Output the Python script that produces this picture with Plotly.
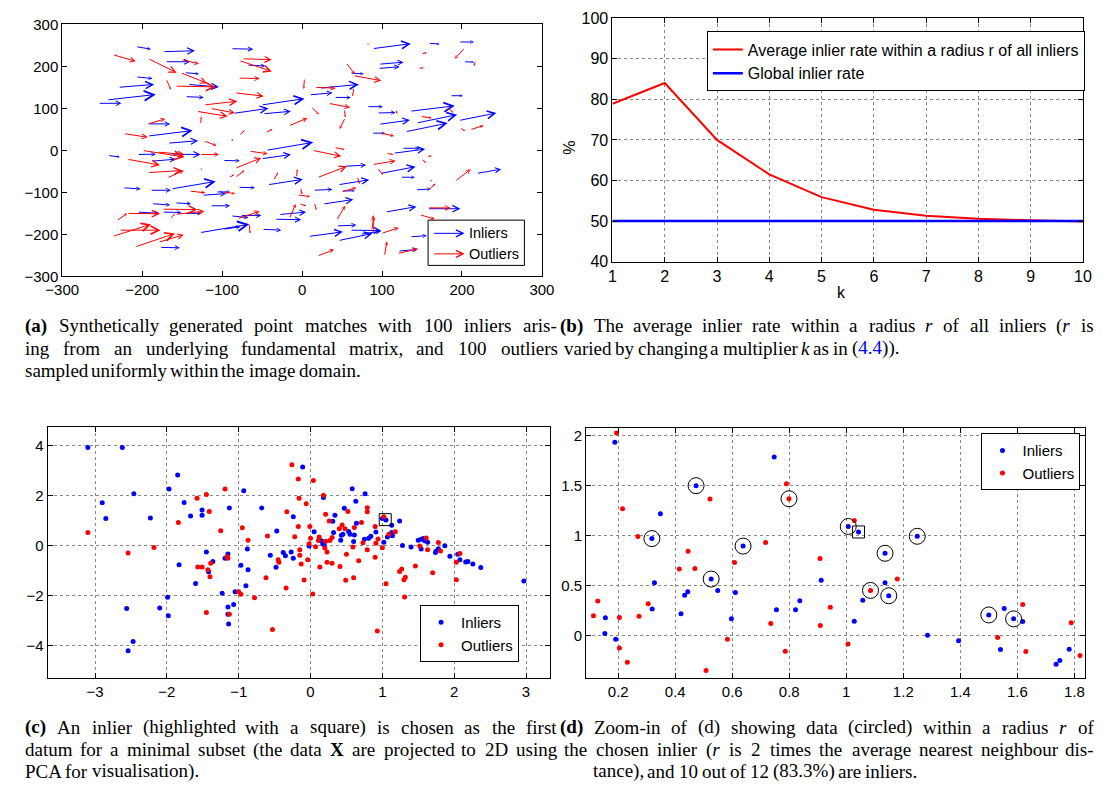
import math
import re
import plotly.graph_objects as go

W, H = 1111, 801

# ---------------- (a) point matches: arrows (x0, y0, x1, y1) ----------------
INLIER_ARROWS = [
    (-208, 247, -189, 241), (-174, 235, -134, 237), (-89, 242, -61, 241), (88, 242, 136, 254),
    (158, 255, 172, 253), (196, 258, 215, 258), (-171, 211, -140, 211), (96, 205, 127, 210),
    (95, 195, 122, 199), (202, 211, 215, 210), (-147, 185, -129, 182), (-208, 175, -187, 171),
    (-230, 150, -185, 157), (-244, 120, -183, 133), (-255, 112, -226, 112), (-143, 157, -104, 151),
    (-69, 203, -46, 201), (9, 132, 38, 137), (40, 126, 61, 126), (22, 148, 71, 157),
    (60, 184, 77, 182), (-146, 128, -123, 126), (-86, 88, -42, 100), (-51, 108, 3, 123),
    (-49, 87, -14, 93), (81, 104, 101, 104), (94, 89, 117, 90), (135, 93, 191, 106),
    (143, 65, 194, 85), (96, 62, 135, 72), (129, 44, 182, 65), (196, 71, 243, 89),
    (87, 41, 104, 41), (-193, 34, -137, 47), (-193, 63, -165, 63), (-168, 17, -130, 23),
    (-206, -10, -183, -9), (-189, -26, -158, -21), (-164, -9, -127, -10), (-243, -12, -228, -16),
    (-99, -24, -78, -25), (-51, -20, -14, -10), (-45, 0, 14, 19), (114, -7, 154, 3),
    (125, 5, 147, 5), (53, -38, 80, -35), (98, -55, 142, -39), (123, -64, 141, -64),
    (218, -55, 249, -45), (45, -82, 84, -70), (14, -95, 38, -93), (49, -97, 66, -96),
    (142, -94, 161, -92), (-43, -82, 1, -69), (-224, -89, -202, -92), (-190, -95, -164, -95),
    (-164, -92, -108, -74), (-125, -107, -95, -103), (-108, -99, -90, -99), (-80, -88, -59, -89),
    (-115, -132, -90, -132), (-188, -127, -165, -130), (-159, -125, -139, -127), (-206, -147, -178, -150),
    (-175, -147, -151, -148), (-147, -150, -126, -150), (-77, -155, -51, -155), (-29, -153, 5, -147),
    (-34, -164, -1, -165), (26, -128, 64, -117), (104, -147, 143, -134), (157, -139, 198, -139),
    (-89, -156, -67, -160), (-128, -196, -66, -176), (-99, -188, -77, -182), (-50, -188, -26, -190),
    (8, -205, 51, -194), (43, -180, 68, -178), (45, -215, 88, -198), (60, -190, 99, -191),
    (73, -200, 99, -192), (135, -206, 156, -203), (120, -240, 144, -236), (-178, -231, -153, -232),
    (185, 130, 201, 130),
]
OUTLIER_ARROWS = [
    (-237, 228, -208, 212), (-193, 219, -157, 185), (-151, 216, -129, 206), (-152, 185, -119, 160),
    (-170, 170, -164, 144), (-159, 153, -108, 151), (-75, 218, -38, 216), (-79, 214, -38, 188),
    (-80, 172, -53, 171), (-84, 137, -48, 129), (-123, 108, -81, 117), (-115, 100, -84, 89),
    (-132, 93, -93, 81), (-127, 62, -126, 80), (-194, 62, -171, 75), (-223, 40, -193, 31),
    (-90, 20, -86, 27), (-79, 34, -72, 48), (-46, 42, -37, 50), (-17, 58, 7, 77),
    (3, 172, 2, 146), (11, 104, 21, 86), (16, 150, 42, 148), (33, 112, 60, 102),
    (53, 98, 54, 78), (54, 78, 47, 51), (55, 209, 66, 181), (64, 178, 99, 166),
    (65, 150, 63, 129), (81, 253, 84, 254), (149, 229, 156, 233), (145, 195, 152, 197),
    (204, 245, 191, 218), (217, 214, 215, 201), (117, 98, 119, 87), (148, 81, 162, 77),
    (181, 104, 189, 90), (197, 54, 204, 46), (210, 49, 227, 59), (97, 42, 115, 34),
    (-123, 23, -107, 11), (-200, 0, -147, -16), (-181, -4, -147, -10), (-219, -21, -178, -35),
    (-128, -10, -104, -10), (-66, -2, -43, -8), (13, 0, 49, -14), (40, 7, 53, 2),
    (-84, -43, -51, -18), (-193, -53, -150, -48), (-169, -66, -148, -48), (-128, -48, -125, -43),
    (-92, -65, -85, -58), (-84, -65, -72, -48), (-36, -72, -30, -53), (-7, -65, -6, -45),
    (19, -65, 56, -38), (69, -62, 72, -80), (88, -34, 117, -25), (94, -41, 101, -58),
    (105, -7, 114, -10), (149, -20, 155, -30), (157, -96, 167, -79), (191, -74, 211, -45),
    (49, -99, 68, -89), (-2, -88, 0, -105), (-6, -106, 10, -110), (-4, -127, 5, -132),
    (15, -124, 18, -142), (43, -167, 54, -132), (-16, -163, -8, -128), (-141, -97, -121, -101),
    (-99, -99, -84, -103), (-232, -168, -219, -150), (-219, -150, -178, -151), (-175, -140, -131, -141),
    (-157, -152, -122, -145), (-166, -164, -159, -151), (-237, -205, -189, -176), (-229, -190, -177, -190),
    (-209, -230, -159, -198), (-180, -219, -148, -201), (-81, -163, -53, -145), (-66, -174, -65, -198),
    (89, -198, 89, -154), (87, -190, 90, -160), (99, -198, 121, -184), (103, -252, 106, -217),
    (19, -252, 40, -236), (119, -246, 145, -234), (147, -153, 166, -164), (157, -137, 186, -137),
    (203, -108, 204, -110), (160, -75, 163, -70), (156, -16, 162, -13),
]

# ---------------- (b) inlier rate vs k ----------------
K_VALUES = [1, 2, 3, 4, 5, 6, 7, 8, 9, 10]
AVG_RATE = [78.9, 84.0, 70.0, 61.5, 55.9, 52.8, 51.3, 50.6, 50.2, 49.9]
GLOBAL_RATE = [50, 50, 50, 50, 50, 50, 50, 50, 50, 50]

# ---------------- (c) PCA projection ----------------
C_IN_X = [-3.10, -2.62, -2.90, -2.85, -2.46, -2.23, -1.97, -1.85, -1.76, -1.67, -1.51, -1.51, -1.45, -1.42,
          -1.36, -1.83, -1.60, -1.13, -0.93, -1.19, -1.15, -1.23, -1.05, -1.15, -1.15, -1.14, -1.07, -1.99,
          -2.10, -1.98, -2.56, -2.47, -2.54, -0.97, -0.88, -0.87, -0.90, -0.68, -0.47, -0.56, -0.48, -0.38,
          -0.35, -0.27, -0.24, -0.24, -0.11, -0.02, 0.05, 0.15, 0.17, 0.19, 0.18, 0.31, 0.32, 0.34, 0.42,
          0.43, 0.45, 0.47, 0.53, 0.55, 0.58, 0.60, 0.61, 0.63, 0.64, 0.76, 0.75, 0.81, 0.84, 0.91, 1.00,
          1.05, 1.02, 1.07, 1.13, 1.13, 1.14, 1.24, 1.28, 1.40, 1.50, 1.54, 1.57, 1.54, 1.59, 1.63, 1.74,
          1.75, 1.78, 1.87, 1.94, 2.05, 2.08, 2.16, 2.19, 2.26, 2.37, 2.97]
C_IN_Y = [3.93, 3.93, 1.72, 1.09, 2.08, 1.11, 2.27, 2.83, 1.73, 1.19, 1.43, 1.22, -0.25, -1.04,
          -0.63, -0.76, -1.51, 1.51, 2.20, -0.50, -0.33, -1.90, -1.84, -2.45, -2.74, -3.13, -2.35, -2.06,
          -2.49, -2.80, -2.51, -3.83, -4.20, -0.78, -0.13, -0.96, -1.60, 1.51, 0.59, -0.38, -0.86, -0.27,
          -0.40, -0.25, -0.50, 1.16, 3.15, -0.01, 0.56, 0.20, 0.08, 0.03, 1.93, 0.98, 0.53, 1.22, 0.22,
          0.42, 0.46, 1.50, 0.57, 0.46, 2.28, 0.17, 0.43, 1.78, 0.90, 2.08, 0.26, 0.30, 0.38, 0.55, 1.09,
          1.03, 0.14, 0.35, 0.82, 0.53, 0.40, 0.99, 0.01, -0.05, 0.22, 0.26, 0.29, -0.13, 0.20, 0.14, -0.27,
          -0.21, -0.12, 0.00, -0.42, -0.34, -0.56, -0.65, -0.63, -0.73, -0.87, -1.41]
C_OUT_X = [-3.10, -2.54, -2.18, -1.84, -1.58, -1.45, -1.41, -1.39, -1.57, -1.51, -1.43, -1.40, -1.45, -1.25,
           -1.19, -1.15, -1.16, -1.13, -1.00, -0.97, -0.95, -0.87, -0.78, -0.62, -0.60, -0.53, -0.45, -0.44,
           -0.33, -0.34, -0.26, -0.22, -0.17, -0.17, -0.16, -0.15, -0.15, -0.13, -0.09, -0.06, -0.04, -0.02,
           -0.01, 0.00, 0.03, 0.04, 0.07, 0.11, 0.13, 0.12, 0.18, 0.20, 0.21, 0.21, 0.23, 0.23, 0.26, 0.27,
           0.30, 0.30, 0.40, 0.41, 0.44, 0.48, 0.49, 0.50, 0.52, 0.59, 0.60, 0.61, 0.67, 0.73, 0.71, 0.79,
           0.79, 0.79, 0.90, 0.91, 0.90, 0.94, 0.93, 1.00, 1.02, 1.05, 1.09, 1.18, 1.24, 1.27, 1.30, 1.32,
           1.31, 1.46, 1.52, 1.61, 1.63, 1.70, 1.78, 1.81, 2.03, 2.03, 2.08]
C_OUT_Y = [0.53, -0.29, -0.07, 0.93, 1.90, 2.05, 1.37, -0.70, -0.85, -0.85, -0.96, -1.24, -2.67, 0.60,
           2.27, -0.50, -0.43, -2.74, -1.84, -1.94, 0.72, 0.22, -2.08, -1.28, 0.39, -3.35, -0.56, -0.66,
           1.36, -1.69, 3.24, 0.36, 0.77, 2.67, 1.90, -0.16, -0.38, -0.73, -1.37, 1.68, -0.56, 0.08,
           0.77, 0.30, -1.93, 2.61, -0.04, 0.21, -0.85, 0.35, 2.02, -0.09, 1.26, 0.18, -0.25, -0.66, 0.99, 0.21,
           0.33, -0.70, 0.68, -0.83, 0.83, 0.68, -1.38, -0.34, 1.37, -0.05, -1.28, 0.73, -0.60, 0.12, 0.93, 1.52,
           1.36, -0.16, -0.46, 0.10, 0.77, 0.27, -3.41, -0.08, 1.16, -1.52, 0.46, 0.56, -1.03, -0.93, -1.36, -1.26,
           -2.05, -0.81, -0.01, 0.31, -0.16, -1.08, 0.13, -0.21, -1.36, -0.66, -0.31]
C_CHOSEN_X = [1.04]
C_CHOSEN_Y = [1.04]

# ---------------- (d) zoom-in ----------------
D_IN_X = [0.188, 0.747, 0.473, 0.348, 0.318, 0.327, 0.319, 0.155, 0.153, 0.191, 0.433, 0.444, 0.420, 0.526,
          0.549, 0.611, 0.597, 0.638, 0.755, 0.822, 0.837, 0.912, 1.007, 1.043, 1.028, 1.058, 1.136, 1.136,
          1.149, 1.249, 1.285, 1.394, 1.500, 1.554, 1.587, 1.619, 1.541, 1.736, 1.749, 1.782]
D_IN_Y = [1.935, 1.788, 1.501, 1.220, 0.972, 0.532, 0.268, 0.180, 0.023, -0.033, 0.405, 0.440, 0.222, 0.568,
          0.454, 0.434, 0.170, 0.897, 0.261, 0.261, 0.352, 0.555, 1.093, 1.038, 0.147, 0.356, 0.825, 0.532,
          0.401, 0.995, 0.007, -0.049, 0.209, 0.274, 0.170, 0.144, -0.137, -0.284, -0.245, -0.134]
D_OUT_X = [0.194, 0.215, 0.269, 0.128, 0.113, 0.204, 0.204, 0.232, 0.273, 0.305, 0.414, 0.445, 0.469, 0.522,
           0.508, 0.583, 0.608, 0.717, 0.735, 0.790, 0.799, 0.786, 0.908, 0.909, 0.944, 1.006, 1.028, 1.085,
           1.179, 1.531, 1.619, 1.630, 1.789, 1.820]
D_OUT_Y = [2.026, 1.269, 0.992, 0.349, 0.202, 0.183, -0.121, -0.264, 0.196, 0.320, 0.669, 0.845, 0.672, 1.367,
           -0.346, -0.033, 0.734, 0.933, 0.124, 1.520, 1.370, -0.153, 0.773, 0.104, 0.287, -0.082, 1.152, 0.454,
           0.568, -0.016, 0.313, -0.157, 0.131, -0.196]
D_CIRCLED_X = [0.318, 0.473, 0.526, 0.638, 0.799, 1.007, 1.085, 1.136, 1.149, 1.249, 1.500, 1.587]
D_CIRCLED_Y = [0.972, 1.501, 0.568, 0.897, 1.370, 1.093, 0.454, 0.825, 0.401, 0.995, 0.209, 0.170]
D_CHOSEN_X = [1.043]
D_CHOSEN_Y = [1.038]

# ---------------- captions ----------------
CAP_A = ["<b>(a)</b> Synthetically generated point matches with 100 inliers aris-",
         "ing from an underlying fundamental matrix, and 100 outliers",
         "sampled uniformly within the image domain."]
CAP_B = ["<b>(b)</b> The average inlier rate within a radius <i>r</i> of all inliers (<i>r</i> is",
         'varied by changing a multiplier <i>k</i> as in (<span style="color:#0000ff">4.4</span>)).']
CAP_C = ["<b>(c)</b> An inlier (highlighted with a square) is chosen as the first",
         "datum for a minimal subset (the data <b>X</b> are projected to 2D using",
         "PCA for visualisation)."]
CAP_D = ["<b>(d)</b> Zoom-in of (d) showing data (circled) within a radius <i>r</i> of",
         "the chosen inlier (<i>r</i> is 2 times the average nearest neighbour dis-",
         "tance), and 10 out of 12 (83.3%) are inliers."]

BLUE = "#0000ff"
RED = "#ff0000"
SANS = "Liberation Sans, Arial, sans-serif"
SERIF = "Liberation Serif, Times New Roman, serif"


def px(x):
    return x / W


def py(y):
    return 1 - y / H


fig = go.Figure()

# ---- (a) ----
XA = (46.5, 539.5)
YA = (15.7, 273.5)
sx_a = (XA[1] - XA[0]) / 600.0
sy_a = (YA[1] - YA[0]) / 600.0
annotations = []


def arrow(a, color):
    x0, y0, x1, y1 = a
    L = math.hypot((x1 - x0) * sx_a, (y1 - y0) * sy_a)
    size = max(0.35, min(1.9, 0.23 * L / 6.0))
    return dict(x=x1, y=y1, ax=x0, ay=y0, xref="x", yref="y", axref="x", ayref="y",
                text="", showarrow=True, arrowhead=5, arrowsize=size, arrowwidth=1,
                arrowcolor=color, standoff=0, startstandoff=0)


for a in INLIER_ARROWS:
    annotations.append(arrow(a, BLUE))
for a in OUTLIER_ARROWS:
    annotations.append(arrow(a, RED))

fig.add_trace(go.Scatter(x=[-300, 300], y=[-300, 300], mode="markers", marker=dict(opacity=0),
                         xaxis="x", yaxis="y", showlegend=False, hoverinfo="skip"))

# legend of (a) drawn manually (arrow glyphs)
shapes = [dict(type="rect", xref="paper", yref="paper", x0=px(422.5), x1=px(521.5), y0=py(262.3), y1=py(216),
               line=dict(color="black", width=1), fillcolor="white", layer="above")]
for yy, col, lab in [(229.5, BLUE, "Inliers"), (250.5, RED, "Outliers")]:
    annotations.append(dict(x=px(460), y=py(yy), xref="paper", yref="paper", ax=-32, ay=0,
                            axref="pixel", ayref="pixel", text="", showarrow=True, arrowhead=5,
                            arrowsize=1.4, arrowwidth=1, arrowcolor=col, standoff=0))
    annotations.append(dict(x=px(463), y=py(yy), xref="paper", yref="paper", text=lab, showarrow=False,
                            xanchor="left", yanchor="middle", font=dict(family=SANS, size=14.5, color="black")))

# ---- (b) ----
fig.add_trace(go.Scatter(x=K_VALUES, y=AVG_RATE, mode="lines", line=dict(color=RED, width=2),
                         name="Average inlier rate within a radius r of all inliers",
                         xaxis="x2", yaxis="y2", legend="legend"))
fig.add_trace(go.Scatter(x=K_VALUES, y=GLOBAL_RATE, mode="lines", line=dict(color=BLUE, width=2.5),
                         name="Global inlier rate", xaxis="x2", yaxis="y2", legend="legend"))
annotations.append(dict(x=px(854), y=py(290), xref="paper", yref="paper", text="k", showarrow=False,
                        font=dict(family=SANS, size=16, color="black")))
annotations.append(dict(x=px(567), y=py(133), xref="paper", yref="paper", text="%", showarrow=False,
                        textangle=-90, font=dict(family=SANS, size=16, color="black")))

# ---- (c) ----
fig.add_trace(go.Scatter(x=C_IN_X, y=C_IN_Y, mode="markers", marker=dict(color=BLUE, size=5),
                         name="Inliers", xaxis="x3", yaxis="y3", legend="legend2"))
fig.add_trace(go.Scatter(x=C_OUT_X, y=C_OUT_Y, mode="markers", marker=dict(color=RED, size=5),
                         name="Outliers", xaxis="x3", yaxis="y3", legend="legend2"))
fig.add_trace(go.Scatter(x=C_CHOSEN_X, y=C_CHOSEN_Y, mode="markers",
                         marker=dict(symbol="square-open", size=12, color="black", line=dict(width=1)),
                         xaxis="x3", yaxis="y3", showlegend=False))

# ---- (d) ----
fig.add_trace(go.Scatter(x=D_IN_X, y=D_IN_Y, mode="markers", marker=dict(color=BLUE, size=5),
                         name="Inliers", xaxis="x4", yaxis="y4", legend="legend3"))
fig.add_trace(go.Scatter(x=D_OUT_X, y=D_OUT_Y, mode="markers", marker=dict(color=RED, size=5),
                         name="Outliers", xaxis="x4", yaxis="y4", legend="legend3"))
fig.add_trace(go.Scatter(x=D_CIRCLED_X, y=D_CIRCLED_Y, mode="markers",
                         marker=dict(symbol="circle-open", size=16, color="black", line=dict(width=1)),
                         xaxis="x4", yaxis="y4", showlegend=False))
fig.add_trace(go.Scatter(x=D_CHOSEN_X, y=D_CHOSEN_Y, mode="markers",
                         marker=dict(symbol="square-open", size=12, color="black", line=dict(width=1)),
                         xaxis="x4", yaxis="y4", showlegend=False))

# ---- captions (justified word placement, Times metrics) ----
W_N = {' ': 250, '!': 333, '%': 833, '(': 333, ')': 333, ',': 250, '-': 333, '.': 250,
       'A': 722, 'B': 667, 'C': 667, 'D': 722, 'P': 556, 'S': 556, 'T': 611, 'X': 722, 'Z': 611,
       'a': 444, 'b': 500, 'c': 444, 'd': 500, 'e': 444, 'f': 333, 'g': 500, 'h': 500, 'i': 278,
       'j': 278, 'k': 500, 'l': 278, 'm': 778, 'n': 500, 'o': 500, 'p': 500, 'q': 500, 'r': 333,
       's': 389, 't': 278, 'u': 500, 'v': 500, 'w': 722, 'x': 500, 'y': 500, 'z': 444}
W_B = {'(': 333, ')': 333, 'a': 500, 'b': 556, 'c': 444, 'd': 556, 'X': 722}
W_I = {'r': 389, 'k': 444}
FS = 19


def tw(s):
    bold = ital = False
    w = 0
    for t in re.split(r'(<[^>]+>)', s):
        if t.startswith('<'):
            if t == '<b>':
                bold = True
            elif t == '</b>':
                bold = False
            elif t == '<i>':
                ital = True
            elif t == '</i>':
                ital = False
            continue
        for ch in t:
            if bold:
                w += W_B.get(ch, W_N.get(ch, 500))
            elif ital:
                w += W_I.get(ch, W_N.get(ch, 500))
            else:
                w += W_N.get(ch, 500)
    return w * FS / 1000.0


def add_line(line, x0, x1, y, justify):
    words = re.split(r' (?![^<]*>)', line)
    ws = [tw(w) for w in words]
    gap = 0.25 * FS
    if justify and len(words) > 1:
        gap = max(0.12 * FS, (x1 - x0 - sum(ws)) / (len(words) - 1))
    x = x0
    for w, wd in zip(words, ws):
        annotations.append(dict(x=px(x), y=py(y), xref="paper", yref="paper", text=w, showarrow=False,
                                xanchor="left", yanchor="middle", borderpad=0,
                                font=dict(family=SERIF, size=FS, color="black")))
        x += wd + gap


add_line(CAP_A[0], 7, 553, 324, True)
add_line(CAP_A[1], 7, 553, 347, True)
add_line(CAP_A[2], 7, 553, 370, False)
add_line(CAP_B[0], 557, 1105, 324, True)
add_line(CAP_B[1], 561, 1105, 347, False)
add_line(CAP_C[0], 7, 553, 735, True)
add_line(CAP_C[1], 7, 553, 758, True)
add_line(CAP_C[2], 7, 553, 780, False)
add_line(CAP_D[0], 557, 1105, 735, True)
add_line(CAP_D[1], 561, 1105, 758, True)
add_line(CAP_D[2], 591, 1105, 780, False)


def axis(dom, rng, dtick, grid, fs=15, anchor=None, tick0=None):
    d = dict(domain=dom, range=rng, dtick=dtick, showline=True, linecolor="black", linewidth=1,
             mirror="ticks", ticks="inside", ticklen=5, tickcolor="black", zeroline=False,
             showgrid=grid, gridcolor="#8a8a8a", griddash="dot", gridwidth=1,
             tickfont=dict(family=SANS, size=fs, color="black"), anchor=anchor)
    if tick0 is not None:
        d["tick0"] = tick0
    return d


fig.update_layout(
    width=W, height=H, autosize=False,
    margin=dict(l=0, r=0, t=0, b=0),
    paper_bgcolor="white", plot_bgcolor="white",
    xaxis=axis([px(XA[0]), px(XA[1])], [-300, 300], 100, False, anchor="y"),
    yaxis=axis([py(YA[1]), py(YA[0])], [-300, 300], 100, False, anchor="x"),
    xaxis2=axis([px(612), px(1095.5)], [1, 10], 1, True, fs=16, anchor="y2"),
    yaxis2=axis([py(258.5), py(9.3)], [40, 100], 10, True, fs=16, anchor="x2"),
    xaxis3=axis([px(31.5), px(547.5)], [-3.66, 3.33], 1, True, anchor="y3"),
    yaxis3=axis([py(684), py(428)], [-5.28, 4.73], 2, True, anchor="x3"),
    xaxis4=axis([px(585), px(1097.5)], [0.0876, 1.837], 0.2, True, anchor="y4", tick0=0),
    yaxis4=axis([py(684.3), py(428.3)], [-0.42, 2.08], 0.5, True, anchor="x4", tick0=0),
    legend=dict(x=px(709), y=py(23), xanchor="left", yanchor="top", bgcolor="white",
                bordercolor="black", borderwidth=1, font=dict(family=SANS, size=16, color="black")),
    legend2=dict(x=px(516), y=py(668), xanchor="right", yanchor="bottom", bgcolor="white",
                 bordercolor="black", borderwidth=1, font=dict(family=SANS, size=15, color="black")),
    legend3=dict(x=px(1093), y=py(434), xanchor="right", yanchor="top", bgcolor="white",
                 bordercolor="black", borderwidth=1, font=dict(family=SANS, size=15, color="black")),
    annotations=annotations,
    shapes=shapes,
)

# remove the browser's default 8px body margin so the figure sits at the page origin
fig.write_html("out.html",
               config={"displayModeBar": False},
               post_script="document.body.style.margin='0px';document.body.style.overflow='hidden';")
